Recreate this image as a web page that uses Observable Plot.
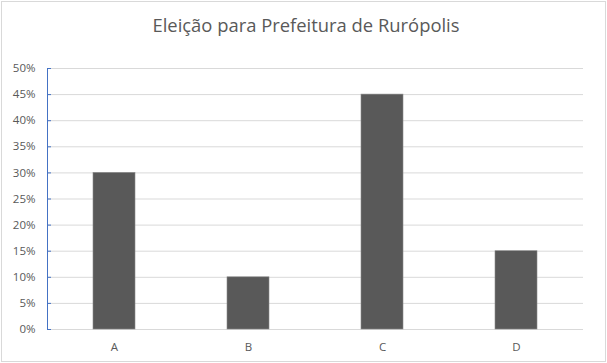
<!DOCTYPE html>
<html>
<head>
<meta charset="utf-8">
<script src="https://cdn.jsdelivr.net/npm/d3@7"></script>
<script src="https://cdn.jsdelivr.net/npm/@observablehq/plot@0.6"></script>
<style>
  html, body { margin: 0; padding: 0; background: #fff; }
  #chart { position: relative; width: 607px; height: 363px; overflow: hidden; font-family: "Open Sans", sans-serif; }
  #border { position: absolute; left: 1px; top: 1px; width: 605px; height: 361px; box-sizing: border-box; border: 1px solid #d9d9d9; pointer-events: none; }
  #title { height: 50px; box-sizing: border-box; padding-top: 12px; text-align: center; font-size: 18.4px; color: #595959; line-height: 26px; padding-left: 5px; }
  svg { display: block; }
</style>
</head>
<body>
<div id="chart">
  <div id="border"></div>
  <div id="title">Eleição para Prefeitura de Rurópolis</div>
</div>
<script>
const categories = ["A", "B", "C", "D"];
const values = [0.30, 0.10, 0.45, 0.15];
const yTicks = [0, 0.05, 0.10, 0.15, 0.20, 0.25, 0.30, 0.35, 0.40, 0.45, 0.50];

const data = categories.map((c, i) => ({cat: c, value: values[i]}));
const blue = "#4472c4";
const textColor = "#595959";

const chart = Plot.plot({
  width: 607,
  height: 313,
  marginTop: 18,
  marginBottom: 34,
  marginLeft: 47,
  marginRight: 24,
  style: {fontFamily: "'Open Sans', sans-serif", fontSize: "11.5px", color: textColor, background: "transparent"},
  x: {domain: categories, paddingInner: 0.687, paddingOuter: 0.3435, label: null},
  y: {domain: [0, 0.5], label: null},
  marks: [
    Plot.gridY(yTicks, {stroke: "#d9d9d9", strokeOpacity: 1}),
    Plot.barY(data, {x: "cat", y: "value", fill: "#595959", stroke: "#8a8a8a", strokeWidth: 0.6}),
    Plot.frame({anchor: "left", stroke: blue}),
    Plot.axisY({ticks: yTicks, tickSize: 4, dx: 4, stroke: blue, tickFormat: () => ""}),
    Plot.axisY({ticks: yTicks, tickSize: 0, tickPadding: 12, tickFormat: d3.format(".0%"), fill: textColor}),
    Plot.axisX({tickSize: 0, tickPadding: 13, fill: textColor})
  ]
});
document.getElementById("chart").appendChild(chart);
</script>
</body>
</html>
